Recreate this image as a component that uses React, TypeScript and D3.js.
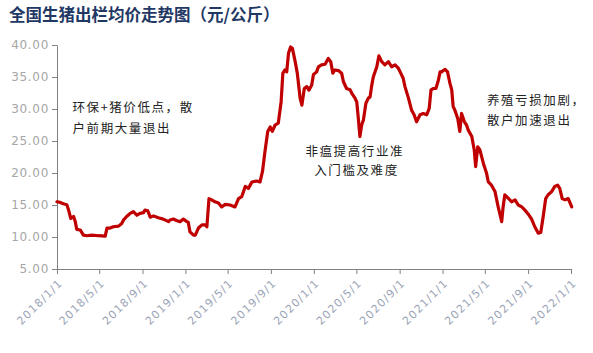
import React, { useEffect, useRef } from 'react';
import * as d3 from 'd3';

// weekly-ish price readings (元/公斤)
const dates = [
  '2018-01-01', '2018-01-10', '2018-01-19', '2018-01-29', '2018-02-03', '2018-02-09', '2018-02-17', '2018-02-22',
  '2018-02-26', '2018-03-08', '2018-03-17', '2018-03-27', '2018-04-10', '2018-04-29', '2018-05-18', '2018-05-23',
  '2018-06-01', '2018-06-10', '2018-06-25', '2018-07-04', '2018-07-09', '2018-07-18', '2018-07-28', '2018-08-06',
  '2018-08-16', '2018-08-25', '2018-09-04', '2018-09-08', '2018-09-16', '2018-09-23', '2018-10-02', '2018-10-16',
  '2018-10-30', '2018-11-14', '2018-11-18', '2018-11-28', '2018-12-08', '2018-12-17', '2018-12-26', '2019-01-05',
  '2019-01-09', '2019-01-14', '2019-01-24', '2019-01-29', '2019-02-07', '2019-02-17', '2019-02-26', '2019-03-03',
  '2019-03-09', '2019-03-17', '2019-03-26', '2019-04-05', '2019-04-14', '2019-04-24', '2019-05-08', '2019-05-22',
  '2019-06-01', '2019-06-10', '2019-06-20', '2019-06-29', '2019-07-09', '2019-07-23', '2019-08-01', '2019-08-08',
  '2019-08-15', '2019-08-23', '2019-08-30', '2019-09-05', '2019-09-13', '2019-09-22', '2019-09-30', '2019-10-05',
  '2019-10-11', '2019-10-16', '2019-10-21', '2019-10-27', '2019-11-01', '2019-11-09', '2019-11-15', '2019-11-23',
  '2019-11-28', '2019-12-05', '2019-12-12', '2019-12-18', '2019-12-26', '2019-12-31', '2020-01-09', '2020-01-14',
  '2020-01-23', '2020-02-02', '2020-02-11', '2020-02-18', '2020-02-24', '2020-03-01', '2020-03-11', '2020-03-20',
  '2020-03-25', '2020-04-03', '2020-04-13', '2020-04-18', '2020-04-27', '2020-05-02', '2020-05-06', '2020-05-11',
  '2020-05-16', '2020-05-21', '2020-05-28', '2020-06-04', '2020-06-09', '2020-06-13', '2020-06-18', '2020-06-28',
  '2020-07-04', '2020-07-12', '2020-07-21', '2020-07-31', '2020-08-09', '2020-08-19', '2020-08-28', '2020-09-04',
  '2020-09-11', '2020-09-16', '2020-09-26', '2020-10-05', '2020-10-12', '2020-10-19', '2020-10-29', '2020-11-07',
  '2020-11-17', '2020-11-24', '2020-11-29', '2020-12-06', '2020-12-13', '2020-12-20', '2020-12-25', '2020-12-29',
  '2021-01-08', '2021-01-15', '2021-01-22', '2021-01-27', '2021-01-31', '2021-02-05', '2021-02-13', '2021-02-19',
  '2021-02-24', '2021-03-04', '2021-03-10', '2021-03-15', '2021-03-25', '2021-04-01', '2021-04-05', '2021-04-11',
  '2021-04-17', '2021-04-27', '2021-05-06', '2021-05-11', '2021-05-20', '2021-05-30', '2021-06-08', '2021-06-18',
  '2021-06-22', '2021-06-27', '2021-07-07', '2021-07-16', '2021-07-26', '2021-08-04', '2021-08-14', '2021-08-23',
  '2021-09-01', '2021-09-11', '2021-09-20', '2021-09-30', '2021-10-07', '2021-10-14', '2021-10-21', '2021-10-28',
  '2021-11-07', '2021-11-16', '2021-11-24', '2021-11-30', '2021-12-07', '2021-12-15', '2021-12-24', '2022-01-01',
  '2022-01-03'
];
const prices = [
  15.5, 15.4, 15.2, 15.05, 14.2, 12.9, 13.2, 12.4,
  11.2, 11.1, 10.3, 10.2, 10.3, 10.2, 10.15, 11.4,
  11.4, 11.6, 11.7, 12.1, 12.65, 13.2, 13.7, 13.95,
  13.4, 13.7, 13.8, 14.2, 14.1, 13.1, 13.3, 13.0,
  12.8, 12.4, 12.65, 12.8, 12.55, 12.4, 12.8, 12.4,
  12.3, 10.8, 10.3, 10.3, 11.4, 11.9, 11.9, 11.6,
  16.0, 15.8, 15.5, 15.3, 14.7, 15.1, 15.0, 14.7,
  16.0, 16.3, 17.9, 17.6, 18.6, 18.75, 18.6, 20.2,
  23.3, 26.5, 27.2, 26.5, 27.5, 27.8, 31.1, 35.6,
  36.1, 35.8, 38.7, 39.7, 39.5, 37.4, 35.6, 31.7,
  30.6, 33.2, 33.5, 32.95, 33.75, 35.4, 35.8, 36.6,
  36.9, 37.0, 37.9, 37.4, 35.6, 36.1, 36.0, 35.6,
  34.3, 33.2, 33.0, 32.45, 31.7, 31.1, 28.8, 25.7,
  27.5, 28.3, 30.9, 31.7, 31.9, 33.5, 35.0, 36.6,
  38.3, 37.4, 36.9, 37.4, 36.6, 36.9, 36.4, 35.6,
  34.8, 33.5, 31.7, 29.8, 29.1, 28.0, 29.1, 29.3,
  29.1, 30.1, 33.0, 33.2, 33.2, 34.5, 35.8, 35.8,
  36.2, 35.8, 34.0, 33.0, 30.4, 29.8, 28.5, 26.5,
  29.3, 28.0, 27.5, 26.7, 25.7, 23.6, 21.0, 24.1,
  23.6, 21.5, 19.95, 18.6, 18.1, 17.1, 14.7, 12.4,
  14.7, 16.6, 16.05, 15.5, 15.8, 15.0, 14.7, 14.2,
  13.6, 12.8, 11.6, 10.6, 10.7, 13.2, 16.0, 16.6,
  17.1, 17.9, 18.1, 17.6, 16.0, 15.8, 16.0, 15.0,
  14.7
];
const yTicks = [5, 10, 15, 20, 25, 30, 35, 40];
const xTicks = [
  '2018-01-01', '2018-05-01', '2018-09-01', '2019-01-01', '2019-05-01', '2019-09-01', '2020-01-01',
  '2020-05-01', '2020-09-01', '2021-01-01', '2021-05-01', '2021-09-01', '2022-01-01'
];
const title = '全国生猪出栏均价走势图（元/公斤）';
// annotation anchors (date, value) and text lines
const notes = [
  { date: '2018-02-14', value: 29.6, gap: 21, lines: ['环保+猪价低点，散', '户前期大量退出'] },
  { date: '2019-12-08', value: 22.6, gap: 19, lines: ['非瘟提高行业准', '  入门槛及难度'] },
  { date: '2021-05-07', value: 30.7, gap: 20, lines: ['养殖亏损加剧，', '散户加速退出'] }
];

const W = 593, H = 353;
const parse = d3.timeParse('%Y-%m-%d');
const cjk = '"Noto Sans CJK SC", "Noto Sans", sans-serif';

export default function App() {
  const xAxisRef = useRef<SVGGElement>(null);
  const yAxisRef = useRef<SVGGElement>(null);

  const x = d3.scaleTime()
    .domain([parse('2018-01-01')!, parse('2022-01-01')!])
    .range([57, 571]);
  const y = d3.scaleLinear().domain([5, 40]).range([269, 45]);

  const data = dates.map((d, i) => ({ date: parse(d)!, value: prices[i] }));
  const line = d3.line<{ date: Date; value: number }>()
    .x(d => x(d.date))
    .y(d => y(d.value));

  useEffect(() => {
    const fmt = (d: Date) => `${d.getFullYear()}/${d.getMonth() + 1}/${d.getDate()}`;
    const gx = d3.select(xAxisRef.current!);
    gx.call(d3.axisBottom<Date>(x).tickValues(xTicks.map(t => parse(t)!)).tickFormat(fmt).tickSize(5).tickSizeOuter(0));
    gx.selectAll('path, line').attr('stroke', '#808080');
    gx.selectAll('text')
      .attr('x', 0).attr('y', 0).attr('dy', '0.35em')
      .attr('transform', 'translate(3,12) rotate(-45)')
      .style('text-anchor', 'end')
      .attr('fill', '#9ba5b8')
      .style('font-family', '"DejaVu Sans", sans-serif')
      .style('font-size', '11px')
      .style('letter-spacing', '1.2px');

    const gy = d3.select(yAxisRef.current!);
    gy.call(d3.axisLeft(y).tickValues(yTicks).tickFormat(d3.format('.2f')).tickSize(5).tickSizeOuter(0));
    gy.selectAll('path, line').attr('stroke', '#808080');
    gy.selectAll('text')
      .attr('fill', '#a6a6a6')
      .style('font-family', '"DejaVu Sans", sans-serif')
      .style('font-size', '12px')
      .style('letter-spacing', '0.7px');
  }, []);

  return (
    <svg width={W} height={H} style={{ position: 'absolute', left: 0, top: 0, background: '#fff' }}>
      <text x={9} y={21} fill="#1f3864" fontWeight="bold" fontSize={16.5} fontFamily={cjk}>{title}</text>
      <g ref={yAxisRef} transform="translate(57,0)" />
      <g ref={xAxisRef} transform="translate(0,269)" />
      <path d={line(data) ?? ''} fill="none" stroke="#c00000" strokeWidth={3.2} strokeLinejoin="round" strokeLinecap="round" />
      {notes.map((n, i) => (
        <text key={i} x={x(parse(n.date)!)} y={y(n.value)} fontFamily={cjk} fontSize={12.5} fill="#222" style={{ letterSpacing: '1.6px', whiteSpace: 'pre' }}>
          {n.lines.map((l, j) => (
            <tspan key={j} x={x(parse(n.date)!)} dy={j === 0 ? 0 : n.gap}>{l}</tspan>
          ))}
        </text>
      ))}
    </svg>
  );
}
